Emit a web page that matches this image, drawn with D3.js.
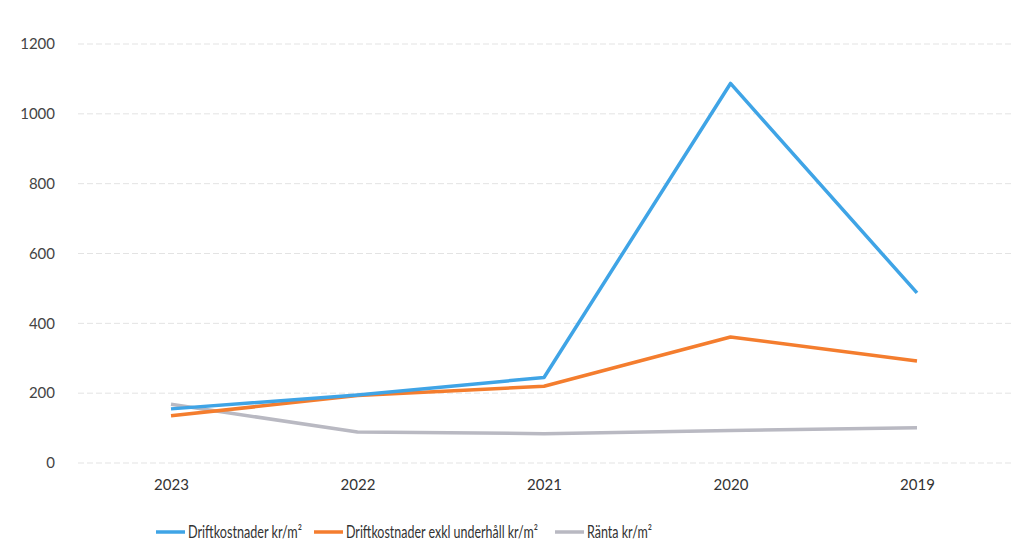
<!DOCTYPE html>
<html><head><meta charset="utf-8">
<script src="https://cdn.jsdelivr.net/npm/d3@7"></script>
<style>body{margin:0;background:#fff;}svg{display:block;}</style>
</head><body>
<script>
const categories = ["2023","2022","2021","2020","2019"];
const drift = [155, 195, 245, 1087, 487];
const driftExkl = [135, 193, 220, 361, 292];
const ranta = [168, 89, 84, 93, 101];
const yTicks = [0,200,400,600,800,1000,1200];
const seriesNames = ["Driftkostnader kr/m²","Driftkostnader exkl underhåll kr/m²","Ränta kr/m²"];
const colors = ["#3fa4e6","#f47d2e","#b9b9c2"];

const W=1029,H=556;
const svg=d3.select("body").append("svg").attr("width",W).attr("height",H);
const x=d3.scalePoint().domain(categories).range([171,917]);
const y=d3.scaleLinear().domain([0,1200]).range([463,44]);
const font="Lato, 'Open Sans', sans-serif";

// grid
svg.append("g").selectAll("line").data(yTicks).join("line")
  .attr("x1",78).attr("x2",1012).attr("y1",d=>y(d)).attr("y2",d=>y(d))
  .attr("stroke","#e3e3e3").attr("stroke-width",1).attr("stroke-dasharray","6,3");

const yAxis=svg.append("g").attr("transform","translate(55,0)")
  .call(d3.axisLeft(y).tickValues(yTicks).tickFormat(d3.format("d")).tickSize(0).tickPadding(0));
yAxis.select(".domain").remove();
yAxis.selectAll("text").attr("font-family",font).attr("font-size",15).attr("fill","#444");

const xAxis=svg.append("g").attr("transform","translate(0,479)")
  .call(d3.axisBottom(x).tickSize(0).tickPadding(0));
xAxis.select(".domain").remove();
xAxis.selectAll("text").attr("font-family",font).attr("font-size",15).attr("fill","#333");

const data=[drift,driftExkl,ranta];
const line=d3.line().x((d,i)=>x(categories[i])).y(d=>y(d));
svg.append("g").selectAll("path").data([2,1,0]).join("path")
  .attr("d",k=>line(data[k])).attr("fill","none")
  .attr("stroke",k=>colors[k]).attr("stroke-width",3.5).attr("stroke-linejoin","round");

// legend
const lx=[156,314,555];
const tw=[114,192,65];
const lg=svg.append("g");
seriesNames.forEach((n,i)=>{
  lg.append("line").attr("x1",lx[i]).attr("x2",lx[i]+29).attr("y1",532).attr("y2",532)
    .attr("stroke",colors[i]).attr("stroke-width",3.5);
  const g=lg.append("g");
  const t=g.append("text").attr("x",0).attr("y",0).text(n)
    .attr("font-family",font).attr("font-size",16.5).attr("fill","#333");
  const nat=t.node().getComputedTextLength();
  g.attr("transform",`translate(${lx[i]+32},537.5) scale(${tw[i]/nat},1)`);
});
</script>
</body></html>
